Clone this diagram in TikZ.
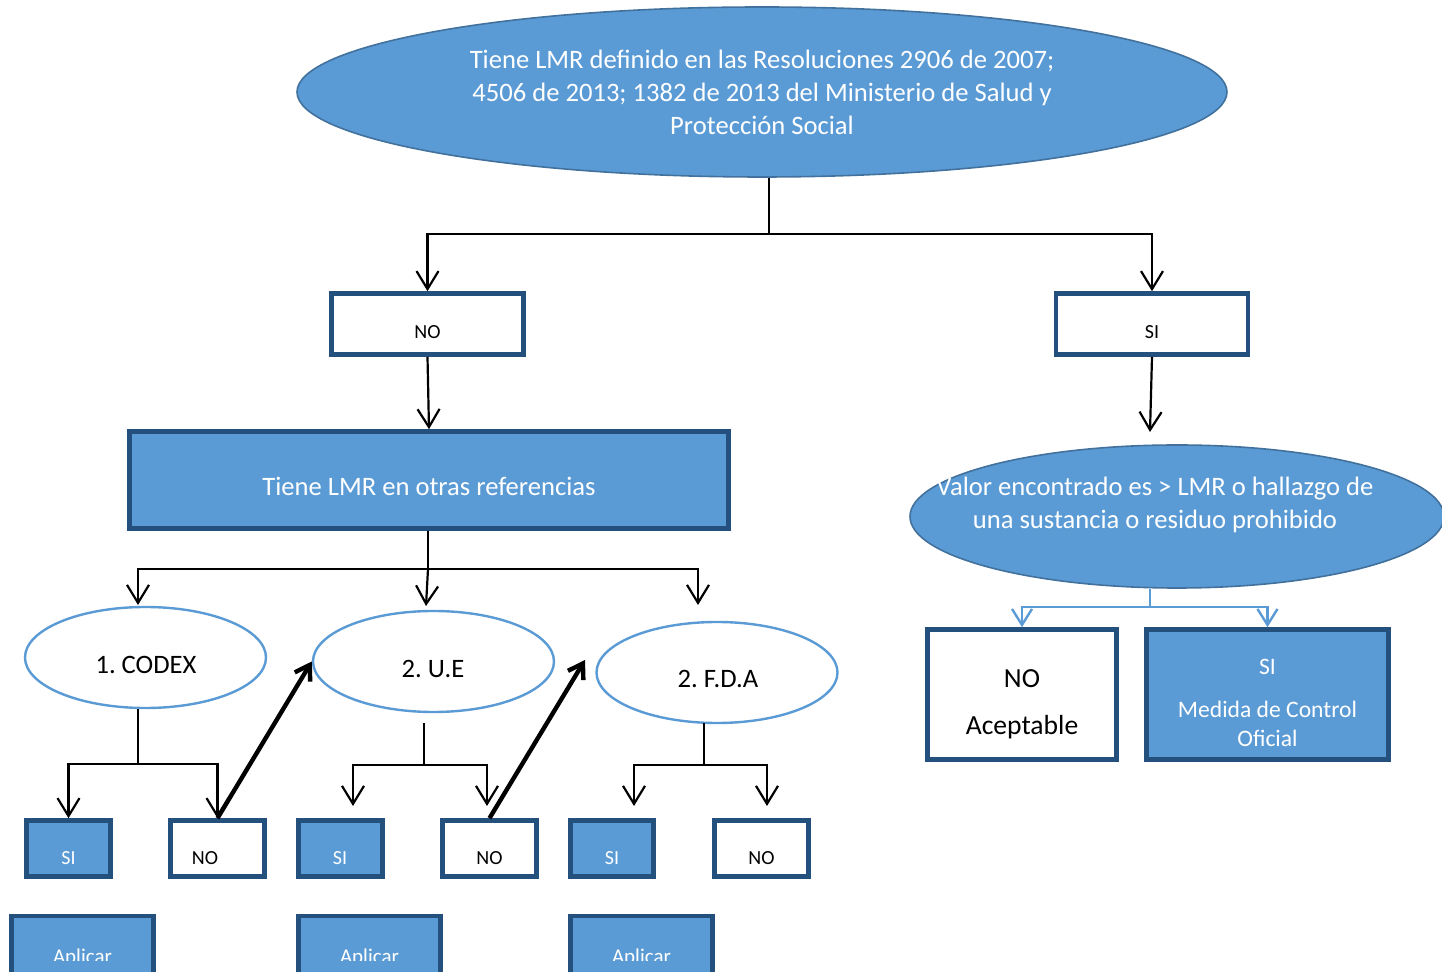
\documentclass[tikz,border=0pt]{standalone}
\usepackage{fontspec}
\setmainfont{Carlito}
\usetikzlibrary{arrows.meta,shapes.geometric}
\definecolor{fillblue}{HTML}{5B9BD5}
\definecolor{darkblue}{HTML}{24507E}
\definecolor{edgeblue}{HTML}{41719C}
\frenchspacing
\begin{document}
\begin{tikzpicture}[x=0.5pt,y=-0.5pt,
  bigell/.style={ellipse, draw=edgeblue, line width=0.8pt, fill=fillblue, inner sep=0pt},
  refell/.style={ellipse, draw=fillblue, line width=1.2pt, fill=white, inner sep=0pt,
    minimum width=120.5pt, minimum height=50.5pt},
  bluebox/.style={rectangle, draw=darkblue, line width=2.3pt, fill=fillblue, inner sep=0pt},
  whitebox/.style={rectangle, draw=darkblue, line width=2.3pt, fill=white, inner sep=0pt},
  smallbox/.style={minimum height=28pt},
  conn/.style={draw=black, line width=1.1pt},
  arr/.style={conn, -{Straight Barb[length=9pt,width=11pt]}},
  boldarr/.style={draw=black, line width=2.2pt, -{Straight Barb[length=7pt,width=9pt]}},
  bluearr/.style={draw=fillblue, line width=1.2pt, -{Straight Barb[length=8pt,width=10pt]}},
  bluecon/.style={draw=fillblue, line width=1.2pt},
  txt/.style={inner sep=0pt, anchor=base, font=\fontsize{13.3}{16}\selectfont},
  smalltxt/.style={inner sep=0pt, anchor=base, font=\fontsize{10}{12}\selectfont},
  wtxt/.style={txt, text=white},
  wsmall/.style={smalltxt, text=white}
]
\useasboundingbox (0,0) rectangle (1442,972);
\clip (0,0) rectangle (1442,972);

% ---------- top ellipse ----------
\node[bigell, minimum width=465pt, minimum height=85pt] (top) at (762,92) {};
\node[wtxt] (t1) at (762,69) {Tiene LMR definido en las Resoluciones 2906 de 2007;};
\node[wtxt] (t2) at (762,102) {4506 de 2013; 1382 de 2013 del Ministerio de Salud y};
\node[wtxt] (t3) at (762,135) {Protección Social};

% ---------- NO / SI boxes ----------
\node[whitebox, minimum width=96pt, minimum height=30.5pt] (noA) at (427.5,324) {};
\node[smalltxt] (noAt) at (427.5,339) {NO};
\node[whitebox, minimum width=96pt, minimum height=30.5pt] (siA) at (1152,324) {};
\node[smalltxt] (siAt) at (1152,339) {SI};

% ---------- big box ----------
\node[bluebox, minimum width=299.5pt, minimum height=48.5pt] (big) at (429,480) {};
\node[wtxt] (bigt) at (429,496) {Tiene LMR en otras referencias};

% ---------- right ellipse ----------
\node[bigell, minimum width=267pt, minimum height=71.5pt] (ell2) at (1177,516.5) {};
\node[wtxt] (e1) at (1155,496) {Valor encontrado es > LMR o hallazgo de};
\node[wtxt] (e2) at (1155,529) {una sustancia o residuo prohibido};

% ---------- result boxes ----------
\node[whitebox, minimum width=94.5pt, minimum height=65pt] (noAc) at (1022,694.5) {};
\node[txt, font=\fontsize{13.8}{16}\selectfont] (noAct1) at (1022,688) {NO};
\node[txt, font=\fontsize{13.8}{16}\selectfont] (noAct2) at (1022,735) {Aceptable};
\node[bluebox, minimum width=121pt, minimum height=65pt] (siM) at (1267.5,694.5) {};
\node[wtxt, font=\fontsize{11.8}{14}\selectfont] (siMt1) at (1267.5,675) {SI};
\node[wtxt, font=\fontsize{11.8}{14}\selectfont] (siMt2) at (1267.5,718) {Medida de Control};
\node[wtxt, font=\fontsize{11.8}{14}\selectfont] (siMt3) at (1267.5,747) {Oficial};

% ---------- reference ellipses ----------
\node[refell] (codex) at (145.5,657.5) {};
\node[txt] (codext) at (146,674) {1. CODEX};
\node[refell] (ue) at (433.5,661.5) {};
\node[txt] (uet) at (433,678) {2. U.E};
\node[refell] (fda) at (717,672.5) {};
\node[txt] (fdat) at (718,688) {2. F.D.A};

% ---------- small boxes ----------
\node[bluebox, smallbox, minimum width=42pt] (si1) at (68.5,848.5) {};
\node[wsmall] (si1t) at (68.5,865) {SI};
\node[whitebox, smallbox, minimum width=47pt] (no1) at (217.5,848.5) {};
\node[smalltxt] (no1t) at (205,865) {NO};
\node[bluebox, smallbox, minimum width=42pt] (si2) at (340.5,848.5) {};
\node[wsmall] (si2t) at (340,865) {SI};
\node[whitebox, smallbox, minimum width=47pt] (no2) at (489.5,848.5) {};
\node[smalltxt] (no2t) at (489.5,865) {NO};
\node[bluebox, smallbox, minimum width=41.5pt] (si3) at (612,848.5) {};
\node[wsmall] (si3t) at (612,865) {SI};
\node[whitebox, smallbox, minimum width=47pt] (no3) at (761.5,848.5) {};
\node[smalltxt] (no3t) at (761.5,865) {NO};

% ---------- Aplicar boxes ----------
\node[bluebox, minimum width=71pt, minimum height=43pt] (ap1) at (82.5,959) {};
\node[bluebox, minimum width=71pt, minimum height=43pt] (ap2) at (369.5,959) {};
\node[bluebox, minimum width=71pt, minimum height=43pt] (ap3) at (641.5,959) {};
\begin{scope}
  \clip (0,0) rectangle (1442,961);
  \node[wsmall, font=\fontsize{10.5}{12}\selectfont] (ap1t) at (82.5,964) {Aplicar};
  \node[wsmall, font=\fontsize{10.5}{12}\selectfont] (ap2t) at (369.5,964) {Aplicar};
  \node[wsmall, font=\fontsize{10.5}{12}\selectfont] (ap3t) at (641.5,964) {Aplicar};
\end{scope}

% ---------- connectors ----------
\coordinate (j0) at (769,234);
\draw[conn] (top.south -| j0) -- (j0);
\draw[arr] (j0) -| (noA.north);
\draw[arr] (j0) -| (siA.north);
\draw[arr] (noA.south) -- (big.north);
\coordinate (c1) at (1150,432);
\draw[arr] (siA.south) -- (c1);

\coordinate (j1) at (428,569);
\coordinate (a1) at (138,605);
\coordinate (a2) at (426,606);
\coordinate (a3) at (698,605);
\draw[conn] (big.south -| j1) -- (j1);
\draw[arr] (j1) -| (a1);
\draw[arr] (j1) -- (a2);
\draw[arr] (j1) -| (a3);

\coordinate (j2) at (138,764);
\draw[conn] (codex.south -| j2) -- (j2);
\draw[arr] (j2) -| (si1.north);
\draw[arr] (j2) -| (no1.north);

\coordinate (u0) at (424,723);
\coordinate (j3) at (424,765);
\coordinate (u1) at (353,806);
\coordinate (u2) at (487,806);
\draw[conn] (u0) -- (j3);
\draw[arr] (j3) -| (u1);
\draw[arr] (j3) -| (u2);

\coordinate (f0) at (704,723);
\coordinate (j4) at (704,765);
\coordinate (f1) at (634,806);
\coordinate (f2) at (767,806);
\draw[conn] (f0) -- (j4);
\draw[arr] (j4) -| (f1);
\draw[arr] (j4) -| (f2);

\draw[boldarr] (no1.north) -- (ue.west);
\coordinate (c2) at (585,660);
\draw[boldarr] (no2.north) -- (c2);

\coordinate (j5) at (1150,607);
\draw[bluecon] (ell2.south -| j5) -- (j5);
\draw[bluearr] (j5) -| (noAc.north);
\draw[bluearr] (j5) -| (siM.north);
\end{tikzpicture}
\end{document}
